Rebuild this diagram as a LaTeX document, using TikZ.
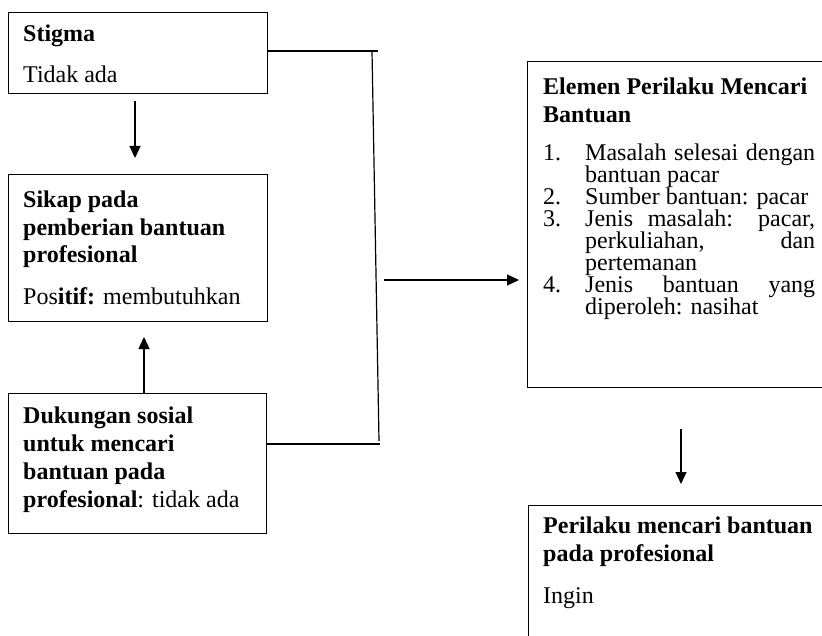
\documentclass[tikz,border=0pt]{standalone}
\usepackage{fontspec}
\setmainfont{Liberation Serif}
\usetikzlibrary{arrows.meta}
\begin{document}
\begin{tikzpicture}[x=1pt,y=-1pt,
  box/.style={draw, line width=1.2pt, rectangle, anchor=north west, inner sep=0pt},
  txt/.style={anchor=base west, inner sep=0pt, font=\fontsize{24}{28}\selectfont},
  link/.style={line width=1.2pt},
  arr/.style={line width=1.2pt, -{Triangle[length=12pt,width=11pt]}}]
\useasboundingbox (0,0) rectangle (822,636);
\clip (0,0) rectangle (822,636);

% boxes
\node[box, minimum width=259pt, minimum height=81pt]  (stigma) at (8,12) {};
\node[box, minimum width=259pt, minimum height=147pt] (sikap)  at (8,174) {};
\node[box, minimum width=258pt, minimum height=140pt] (dukung) at (8,393) {};
\node[box, minimum width=320pt, minimum height=326pt] (elemen) at (527,61) {};
\node[box, minimum width=320pt, minimum height=160pt] (perilaku) at (528,505) {};

% box texts
\node[txt] (s1) at (23,42) {\textbf{Stigma}};
\node[txt] (s2) at (23,83) {Tidak ada};

\node[txt] (k1) at (23,208) {\textbf{Sikap pada}};
\node[txt] (k2) at (23,236) {\textbf{pemberian bantuan}};
\node[txt] (k3) at (23,263) {\textbf{profesional}};
\node[txt] (k4) at (23,305) {Pos\textbf{itif:} membutuhkan};

\node[txt] (d1) at (23,423) {\textbf{Dukungan sosial}};
\node[txt] (d2) at (23,451) {\textbf{untuk mencari}};
\node[txt] (d3) at (23,479) {\textbf{bantuan pada}};
\node[txt] (d4) at (23,507) {\textbf{profesional}: tidak ada};

\node[txt] (e1) at (543,95)  {\textbf{Elemen Perilaku Mencari}};
\node[txt] (e2) at (543,123) {\textbf{Bantuan}};
\node[txt] (n1) at (543,161) {1.};
\node[txt] (l1) at (585,161) {\makebox[230pt][s]{Masalah selesai dengan}};
\node[txt] (l2) at (585,183) {bantuan pacar};
\node[txt] (n2) at (543,205) {2.};
\node[txt] (l3) at (585,205) {Sumber bantuan: pacar};
\node[txt] (n3) at (543,227) {3.};
\node[txt] (l4) at (585,227) {\makebox[230pt][s]{Jenis masalah: pacar,}};
\node[txt] (l5) at (585,249) {\makebox[230pt][s]{perkuliahan, dan}};
\node[txt] (l6) at (585,271) {pertemanan};
\node[txt] (n4) at (543,293) {4.};
\node[txt] (l7) at (585,293) {\makebox[230pt][s]{Jenis bantuan yang}};
\node[txt] (l8) at (585,315) {diperoleh: nasihat};

\node[txt] (p1) at (543,533) {\textbf{Perilaku mencari bantuan}};
\node[txt] (p2) at (543,561) {\textbf{pada profesional}};
\node[txt] (p3) at (543,603) {Ingin};

% joint of the three factors
\coordinate (jtop) at (378,51);
\coordinate (vtop) at (372,51);
\coordinate (vbot) at (379,441);
\coordinate (jbot) at (380,444);
\draw[link] (stigma.east |- jtop) -- (jtop);
\draw[link] (vtop) -- (vbot);
\draw[link] (dukung.east |- jbot) -- (jbot);

% arrows
\coordinate (a1s) at (135,101);
\coordinate (a1e) at (135,158);
\draw[arr] (a1s) -- (a1e);
\coordinate (a2s) at (144,393);
\coordinate (a2e) at (144,337);
\draw[arr] (a2s) -- (a2e);
\coordinate (a3s) at (384,280);
\coordinate (a3e) at (519,280);
\draw[arr] (a3s) -- (a3e);
\coordinate (a4s) at (681,429);
\coordinate (a4e) at (681,484);
\draw[arr] (a4s) -- (a4e);
\end{tikzpicture}
\end{document}
